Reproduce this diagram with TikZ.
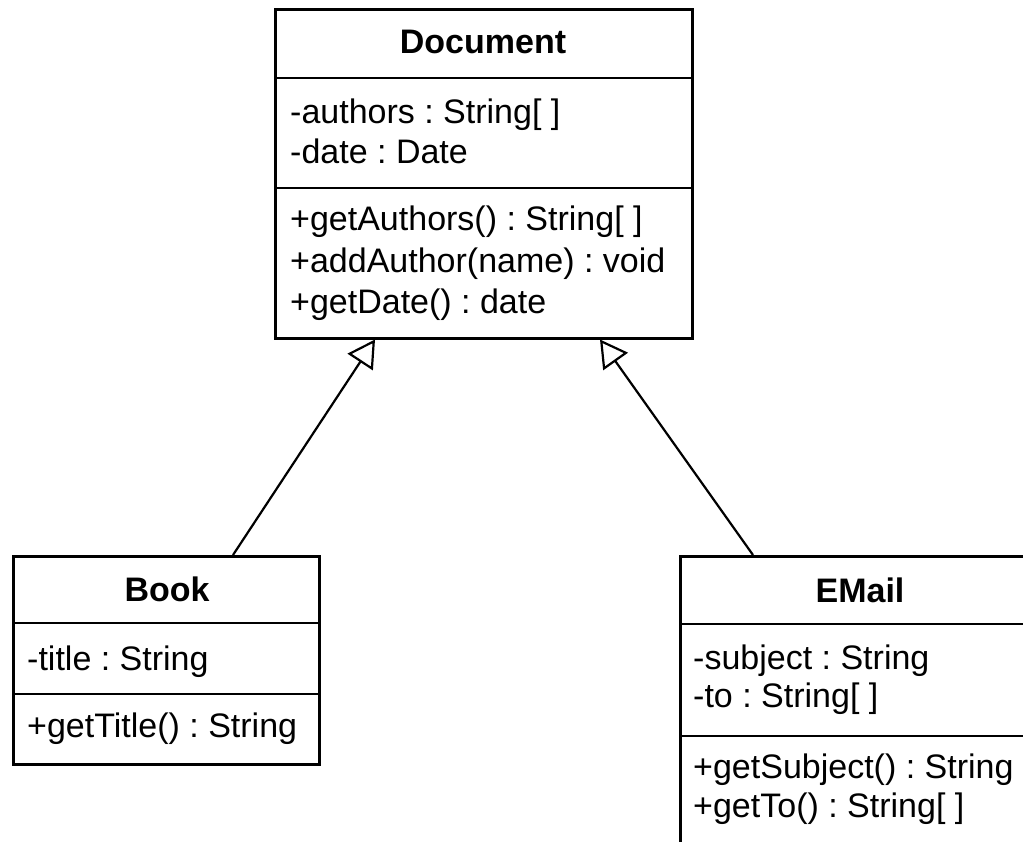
\documentclass[tikz,border=0pt]{standalone}
\usepackage{fontspec}
\setmainfont{Liberation Sans}
\frenchspacing
\usetikzlibrary{arrows.meta}
\tikzset{
  classbox/.style={draw, line width=2.5pt, inner sep=0pt, anchor=north west},
  classname/.style={anchor=base, inner sep=0pt, font=\fontsize{34}{41}\selectfont\bfseries},
  member/.style={anchor=base west, inner sep=0pt, font=\fontsize{34}{41}\selectfont},
  inherits/.style={-{Triangle[open, length=27pt, width=30pt]}, line width=2.2pt},
}
\begin{document}
\begin{tikzpicture}[x=1pt, y=-1pt]
      \useasboundingbox (0,0) rectangle (1023,841);
      \node[classbox, minimum width=417pt, minimum height=329pt] (doc) at (274,8) {};
      \node[classbox, minimum width=306pt, minimum height=208pt] (book) at (12,555) {};
      \node[classbox, minimum width=367pt, minimum height=305pt] (email) at (679,555) {};
      \begin{scope}[line width=2.5pt]
        \draw (doc.west |- 0,78) -- (doc.east |- 0,78);
        \draw (doc.west |- 0,188) -- (doc.east |- 0,188);
        \draw (book.west |- 0,623) -- (book.east |- 0,623);
        \draw (book.west |- 0,694) -- (book.east |- 0,694);
        \draw (email.west |- 0,624) -- (email.east |- 0,624);
        \draw (email.west |- 0,736) -- (email.east |- 0,736);
      \end{scope}
      \node[classname] (docname) at (483,53) {Document};
      \node[member] (docauthors) at (290,123) {-authors : String[ ]};
      \node[member] (docdate) at (290,163) {-date : Date};
      \node[member] (docgetauthors) at (290,230) {+getAuthors() : String[ ]};
      \node[member] (docaddauthor) at (290,272) {+addAuthor(name) : void};
      \node[member] (docgetdate) at (290,313) {+getDate() : date};
      \node[classname] (bookname) at (167,601) {Book};
      \node[member] (booktitle) at (27,670) {-title : String};
      \node[member] (bookgettitle) at (27,737) {+getTitle() : String};
      \node[classname] (emailname) at (860,602) {EMail};
      \node[member] (emailsubject) at (693,669) {-subject : String};
      \node[member] (emailto) at (693,707) {-to : String[ ]};
      \node[member] (emailgetsubject) at (693,778) {+getSubject() : String};
      \node[member] (emailgetto) at (693,817) {+getTo() : String[ ]};
      \begin{scope}[inherits]
        \draw ([xshift=221pt]book.north west) to ([xshift=101pt]doc.south west);
        \draw ([xshift=74pt]email.north west) to ([xshift=326pt]doc.south west);
      \end{scope}
    \end{tikzpicture}
\end{document}
